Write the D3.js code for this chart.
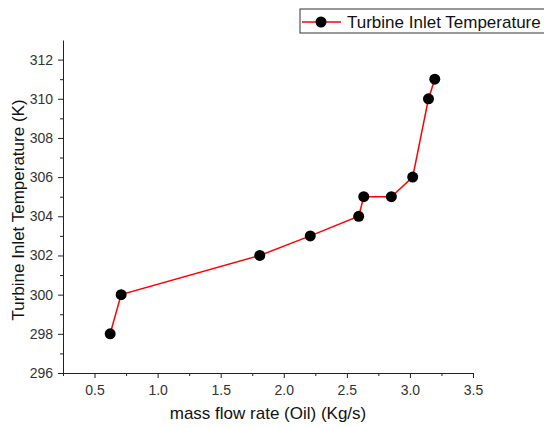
<!DOCTYPE html>
<html>
<head>
<meta charset="utf-8">
<script src="https://cdn.jsdelivr.net/npm/d3@7"></script>
<style>
  body { margin: 0; background: #fff; }
  text { font-family: "Liberation Sans", Arial, sans-serif; }
</style>
</head>
<body>
<div id="chart"></div>
<script>
// values
var massFlow = [0.624, 0.711, 1.81, 2.21, 2.594, 2.634, 2.853, 3.022, 3.147, 3.197];
var inletTemp = [298, 300, 302, 303, 304, 305, 305, 306, 310, 311];
var xTicks = [0.5, 1.0, 1.5, 2.0, 2.5, 3.0, 3.5];
var yTicks = [296, 298, 300, 302, 304, 306, 308, 310, 312];
var seriesName = "Turbine Inlet Temperature";

var width = 544,
  height = 428,
  margin = {top: 40, right: 71, bottom: 55, left: 63};

var svg = d3.select("#chart").append("svg")
  .attr("width", width)
  .attr("height", height);

var x = d3.scaleLinear()
  .domain([0.25, 3.5])
  .range([margin.left, width - margin.right]);

var y = d3.scaleLinear()
  .domain([296, 313])
  .range([height - margin.bottom, margin.top]);

var minorX = d3.range(0.25, 3.5001, 0.25).filter(function (d) {
  return xTicks.indexOf(+d.toFixed(2)) < 0;
});
var minorY = d3.range(297, 313, 2);

// minor ticks
svg.append("g")
  .attr("transform", "translate(0," + y.range()[0] + ")")
  .call(d3.axisBottom(x).tickValues(minorX).tickSize(3).tickFormat(""))
  .call(function (g) { g.select(".domain").remove(); });

svg.append("g")
  .attr("transform", "translate(" + x.range()[0] + ",0)")
  .call(d3.axisLeft(y).tickValues(minorY).tickSize(3).tickFormat(""))
  .call(function (g) { g.select(".domain").remove(); });

// major axes
var xAxis = svg.append("g")
  .attr("transform", "translate(0," + y.range()[0] + ")")
  .call(d3.axisBottom(x).tickValues(xTicks).tickSize(5).tickSizeOuter(0)
    .tickFormat(d3.format(".1f")));

var yAxis = svg.append("g")
  .attr("transform", "translate(" + x.range()[0] + ",0)")
  .call(d3.axisLeft(y).tickValues(yTicks).tickSize(5).tickPadding(5).tickSizeOuter(0)
    .tickFormat(d3.format("d")));

[xAxis, yAxis].forEach(function (g) {
  g.selectAll("path, line").attr("stroke", "#222").attr("stroke-width", 1);
  g.selectAll("text").attr("font-size", 14).attr("fill", "#333");
});
xAxis.selectAll("text").attr("y", 22).attr("dy", null);

svg.selectAll(".tick line").attr("stroke", "#222");

// axis titles
svg.append("text")
  .attr("x", (x.range()[0] + x.range()[1]) / 2)
  .attr("y", 419)
  .attr("text-anchor", "middle")
  .attr("font-size", 17)
  .attr("fill", "#111")
  .text("mass flow rate (Oil) (Kg/s)");

svg.append("text")
  .attr("transform", "translate(24,210) rotate(-90)")
  .attr("text-anchor", "middle")
  .attr("font-size", 17)
  .attr("fill", "#111")
  .text("Turbine Inlet Temperature (K)");

// series
var pts = massFlow.map(function (d, i) { return {x: d, y: inletTemp[i]}; });

var line = d3.line()
  .x(function (d) { return x(d.x); })
  .y(function (d) { return y(d.y); });

svg.append("path")
  .datum(pts)
  .attr("fill", "none")
  .attr("stroke", "#ff0000")
  .attr("stroke-width", 1.5)
  .attr("d", line);

svg.selectAll(".dot")
  .data(pts)
  .enter().append("circle")
  .attr("class", "dot")
  .attr("cx", function (d) { return x(d.x); })
  .attr("cy", function (d) { return y(d.y); })
  .attr("r", 5.5)
  .attr("fill", "#000");

// legend
var lg = svg.append("g").attr("transform", "translate(300,9)");
lg.append("rect")
  .attr("width", 250)
  .attr("height", 24)
  .attr("fill", "#fff")
  .attr("stroke", "#333")
  .attr("stroke-width", 1);
lg.append("line")
  .attr("x1", 2).attr("x2", 41)
  .attr("y1", 13).attr("y2", 13)
  .attr("stroke", "#ff0000")
  .attr("stroke-width", 1.5);
lg.append("circle")
  .attr("cx", 21).attr("cy", 13).attr("r", 5.5)
  .attr("fill", "#000");
lg.append("text")
  .attr("x", 47)
  .attr("y", 19)
  .attr("font-size", 17)
  .attr("fill", "#111")
  .text(seriesName);
</script>
</body>
</html>
